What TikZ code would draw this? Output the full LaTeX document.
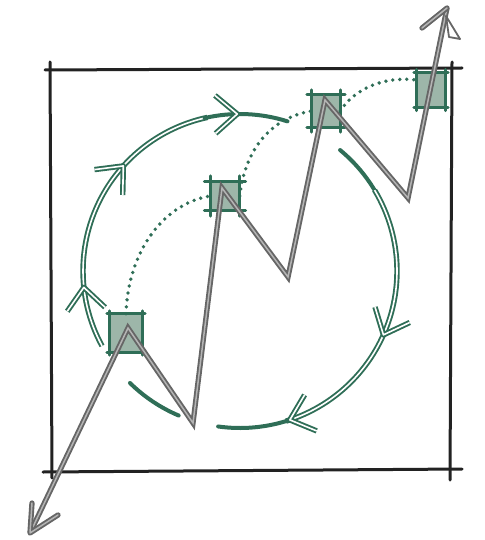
\documentclass[tikz,border=0pt]{standalone}
\usetikzlibrary{calc}
\definecolor{grn}{HTML}{2F6E57}
\definecolor{sqfill}{HTML}{9DB6A9}
\definecolor{gry}{HTML}{666666}
\definecolor{gryin}{HTML}{B4B4B4}
\definecolor{ink}{HTML}{222222}
\begin{document}
\begin{tikzpicture}[x=1pt,y=-1pt,
  frameline/.style={draw=ink,line width=3pt,line cap=round},
  cycdouble/.style={draw=grn,line width=1.9pt,double=white,double distance=1.6pt,line join=round},
  cycsingle/.style={draw=grn,line width=4pt,line cap=round},
  dotpath/.style={draw=grn,line width=3.8pt,line cap=round,dash pattern=on 0pt off 7pt},
  sqbox/.style={fill=sqfill,inner sep=0pt,draw=none},
  sqedge/.style={draw=grn,line width=2.8pt,line cap=round},
  zig/.style={draw=gry,line width=1.9pt,double=gryin,double distance=1.5pt,line join=miter,miter limit=4},
  tipline/.style={draw=gry,line width=1.9pt,double=gryin,double distance=1.5pt,line join=round,line cap=round}]
\useasboundingbox (0,0) rectangle (484,540);
% frame
\coordinate (t1) at (45,70);  \coordinate (t2) at (462,68);
\coordinate (l1) at (50,62);  \coordinate (l2) at (52,478);
\coordinate (r1) at (452,62); \coordinate (r2) at (450,480);
\coordinate (b1) at (43,472); \coordinate (b2) at (462,469);
\draw[frameline] (t1) -- (t2);
\draw[frameline] (l1) -- (l2);
\draw[frameline] (r1) -- (r2);
\draw[frameline] (b1) -- (b2);
% cycle
\coordinate (c) at (240,271);
\draw[cycdouble] ($(c)+(151.5:157)$) arc[start angle=151.5,end angle=258,radius=157];
\draw[cycsingle] ($(c)+(257:157)$) arc[start angle=257,end angle=287.6,radius=157];
\draw[cycsingle] ($(c)+(-50.4:157)$) arc[start angle=-50.4,end angle=-30,radius=157];
\draw[cycdouble] ($(c)+(-31:157)$) arc[start angle=-31,end angle=73,radius=157];
\draw[cycsingle] ($(c)+(72:157)$) arc[start angle=72,end angle=98,radius=157];
\draw[cycsingle] ($(c)+(113:157)$) arc[start angle=113,end angle=134.5,radius=157];
\foreach \t in {174,222,269,24,71.5}{
  \draw[cycdouble,shift={($(c)+(\t:157)$)},rotate={-(\t+90)}] (-22,-19) -- (0,0) -- (-22,19);
}
% squares
\node[sqbox,minimum width=32pt,minimum height=38pt] (s1) at (126,333) {};
\node[sqbox,minimum width=29pt,minimum height=28pt] (s2) at (225,196) {};
\node[sqbox,minimum width=28pt,minimum height=32pt] (s3) at (326,111) {};
\node[sqbox,minimum width=28pt,minimum height=35pt] (s4) at (431,90) {};
\foreach \s/\o in {s1/3,s2/6,s3/5,s4/3}{
  \draw[sqedge] ([xshift=-\o pt]\s.north west) -- ([xshift=\o pt]\s.north east);
  \draw[sqedge] ([xshift=-\o pt]\s.south west) -- ([xshift=\o pt]\s.south east);
  \draw[sqedge] ([yshift=\o pt]\s.north west) -- ([yshift=-\o pt]\s.south west);
  \draw[sqedge] ([yshift=\o pt]\s.north east) -- ([yshift=-\o pt]\s.south east);
}
% dotted links
\draw[dotpath] (s1.north) .. controls (128,250) and (165,203) .. (s2.west);
\draw[dotpath] (s2.east) .. controls (245,150) and (270,118) .. (s3.west);
\draw[dotpath] (s3.east) .. controls (355,88) and (385,76) .. ([yshift=10pt]s4.west);
% zigzag
\coordinate (a0) at (30,533);
\coordinate (a1) at (128,328);
\coordinate (a2) at (193,423);
\coordinate (a3) at (222,188);
\coordinate (a4) at (288,277);
\coordinate (a5) at (325,100);
\coordinate (a6) at (408,198);
\coordinate (a7) at (447,8);
\draw[zig] (a0) -- (a1) -- (a2) -- (a3) -- (a4) -- (a5) -- (a6) -- (a7);
\draw[tipline] (a0) ++(2,-30) -- (a0) -- ++(28,-18);
\draw[tipline] (a7) ++(-25,20) -- (a7);
\draw[draw=gry,line width=1.8pt,line join=round] (a7) ++(-1,8) -- ++(14,23) -- ++(-11,-2) -- cycle;
\end{tikzpicture}
\end{document}
